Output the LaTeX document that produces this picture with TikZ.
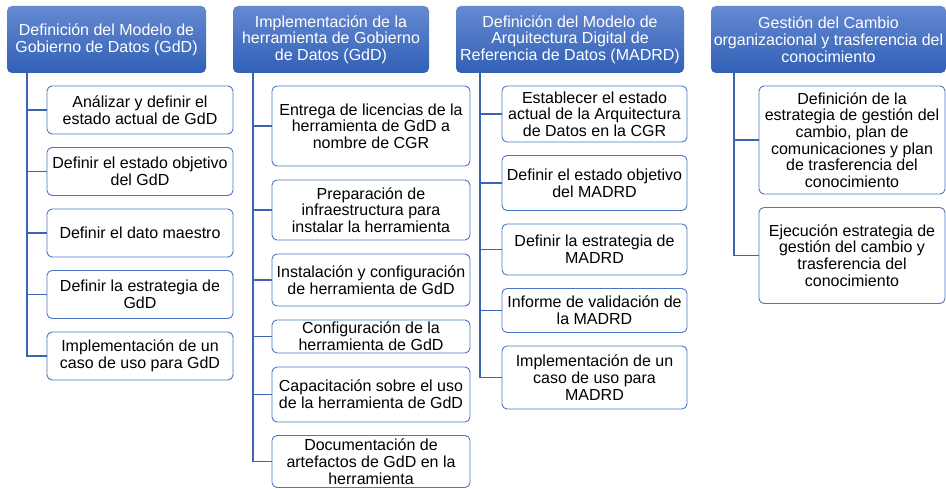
\documentclass[tikz,border=0pt]{standalone}
\usepackage{fontspec}
\setmainfont{Liberation Sans}
\usepackage{tikz}
\usetikzlibrary{positioning,calc}
\definecolor{hdtop}{HTML}{6689D1}
\definecolor{hdbot}{HTML}{3160B6}
\definecolor{boxline}{HTML}{4A75C6}
\definecolor{linkcol}{HTML}{3D63B3}
\tikzset{
  header/.style={
    rectangle,
    rounded corners=5pt,
    top color=hdtop,
    bottom color=hdbot,
    text=white,
    minimum height=67pt,
    inner xsep=2pt,
    outer sep=0pt,
    align=center,
    font=\fontsize{16}{16.7}\selectfont,
  },
  task/.style={
    draw=boxline,
    line width=0.9pt,
    fill=white,
    rectangle,
    rounded corners=5pt,
    inner xsep=2pt,
    outer sep=0pt,
    align=center,
    font=\fontsize{16}{16.7}\selectfont,
  },
  link/.style={
    draw=linkcol,
    line width=1.3pt
  }
}

\begin{document}
\begin{tikzpicture}[x=1pt, y=-1pt, node distance=13.5pt and 27pt]
    \useasboundingbox (0,0) rectangle (946,489);

    % headers
    \node [header, anchor=north west, minimum width=199pt] (gdd) at (7,6)
      {Definición del Modelo de\\Gobierno de Datos (GdD)};

    \node [header, right= of gdd, minimum width=196pt] (herr)
      {Implementación de la\\herramienta de Gobierno\\de Datos (GdD)};

    \node [header, right= of herr, minimum width=228pt] (madrd)
      {Definición del Modelo de\\Arquitectura Digital de\\Referencia de Datos (MADRD)};

    \node [header, right= of madrd, minimum width=235pt] (cambio)
      {Gestión del Cambio\\organizacional y trasferencia del\\conocimiento};

    % first column
    \node [task, below=13pt of gdd.south west, anchor=north west, xshift=40pt,
      minimum width=186pt, minimum height=48pt] (gdd1)
      {Análizar y definir el\\estado actual de GdD};

    \node [task, below= of gdd1, minimum width=186pt, minimum height=48pt] (gdd2)
      {Definir el estado objetivo\\del GdD};

    \node [task, below= of gdd2, minimum width=186pt, minimum height=48pt] (gdd3)
      {Definir el dato maestro};

    \node [task, below= of gdd3, minimum width=186pt, minimum height=48pt] (gdd4)
      {Definir la estrategia de\\GdD};

    \node [task, below= of gdd4, minimum width=186pt, minimum height=48pt] (gdd5)
      {Implementación de un\\caso de uso para GdD};

    % second column
    \node [task, below=13pt of herr.south west, anchor=north west, xshift=39pt,
      minimum width=198pt, minimum height=80pt] (herr1)
      {Entrega de licencias de la\\herramienta de GdD a\\nombre de CGR};

    \node [task, below=14pt of herr1, minimum width=198pt, minimum height=60pt] (herr2)
      {Preparación de\\infraestructura para\\instalar la herramienta};

    \node [task, below=14pt of herr2, minimum width=198pt, minimum height=52pt] (herr3)
      {Instalación y configuración\\de herramienta de GdD};

    \node [task, below=14pt of herr3, minimum width=198pt, minimum height=33pt,
      inner ysep=0pt] (herr4)
      {Configuración de la\\herramienta de GdD};

    \node [task, below=14pt of herr4, minimum width=198pt, minimum height=55pt] (herr5)
      {Capacitación sobre el uso\\de la herramienta de GdD};

    \node [task, below=13.5pt of herr5, minimum width=198pt, minimum height=52pt,
      inner ysep=0pt] (herr6)
      {Documentación de\\artefactos de GdD en la\\herramienta};

    % third column
    \node [task, below=13pt of madrd.south west, anchor=north west, xshift=46pt,
      minimum width=185pt, minimum height=56pt] (madrd1)
      {Establecer el estado\\actual de la Arquitectura\\de Datos en la CGR};

    \node [task, below= of madrd1, minimum width=185pt, minimum height=55pt] (madrd2)
      {Definir el estado objetivo\\del MADRD};

    \node [task, below= of madrd2, minimum width=185pt, minimum height=51pt] (madrd3)
      {Definir la estrategia de\\MADRD};

    \node [task, below= of madrd3, minimum width=185pt, minimum height=44pt] (madrd4)
      {Informe de validación de\\la MADRD};

    \node [task, below= of madrd4, minimum width=185pt, minimum height=63pt] (madrd5)
      {Implementación de un\\caso de uso para\\MADRD};

    % fourth column
    \node [task, below=13pt of cambio.south west, anchor=north west, xshift=48pt,
      minimum width=186pt, minimum height=108pt] (cambio1)
      {Definición de la\\estrategia de gestión del\\cambio, plan de\\comunicaciones y plan\\de trasferencia del\\conocimiento};

    \node [task, below= of cambio1, minimum width=186pt, minimum height=96pt] (cambio2)
      {Ejecución estrategia de\\gestión del cambio y\\trasferencia del\\conocimiento};

    % trunk points
    \coordinate (tgdd) at ([xshift=20pt]gdd.south west);
    \coordinate (therr) at ([xshift=20pt]herr.south west);
    \coordinate (tmadrd) at ([xshift=24pt]madrd.south west);
    \coordinate (tcambio) at ([xshift=23pt]cambio.south west);

    \draw [link] (tgdd) |- (gdd1.west);
    \draw [link] (tgdd) |- (gdd2.west);
    \draw [link] (tgdd) |- (gdd3.west);
    \draw [link] (tgdd) |- (gdd4.west);
    \draw [link] (tgdd) |- (gdd5.west);

    \draw [link] (therr) |- (herr1.west);
    \draw [link] (therr) |- (herr2.west);
    \draw [link] (therr) |- (herr3.west);
    \draw [link] (therr) |- (herr4.west);
    \draw [link] (therr) |- (herr5.west);
    \draw [link] (therr) |- (herr6.west);

    \draw [link] (tmadrd) |- (madrd1.west);
    \draw [link] (tmadrd) |- (madrd2.west);
    \draw [link] (tmadrd) |- (madrd3.west);
    \draw [link] (tmadrd) |- (madrd4.west);
    \draw [link] (tmadrd) |- (madrd5.west);

    \draw [link] (tcambio) |- (cambio1.west);
    \draw [link] (tcambio) |- (cambio2.west);
  \end{tikzpicture}
\end{document}
